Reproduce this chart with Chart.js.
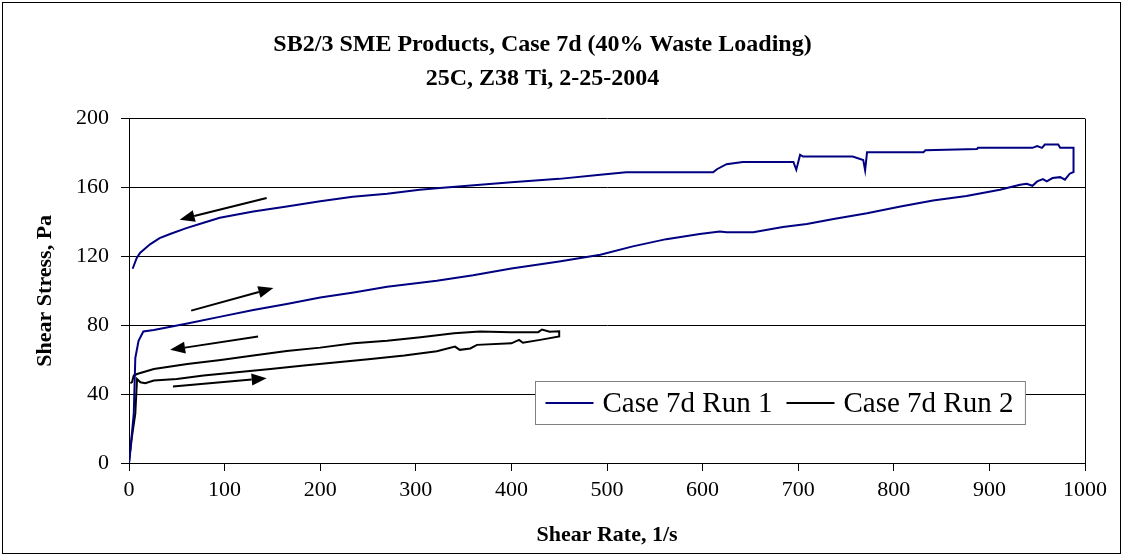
<!DOCTYPE html>
<html>
<head>
<meta charset="utf-8">
<script src="https://cdn.jsdelivr.net/npm/chart.js@4.4.1/dist/chart.umd.min.js"></script>
<style>
  html, body { margin: 0; padding: 0; background: #fff; }
  #wrap { width: 1123px; height: 556px; }
</style>
</head>
<body>
<div id="wrap"><canvas id="chart" width="1123" height="556"></canvas></div>
<script>
// --- datos ---
const titulo = ['SB2/3 SME Products, Case 7d (40% Waste Loading)', '25C, Z38 Ti, 2-25-2004'];
const xTicks = [0, 100, 200, 300, 400, 500, 600, 700, 800, 900, 1000];
const yTicks = [0, 40, 80, 120, 160, 200];

// Run 1: subida (0 -> 988) y bajada (988 -> 4)
const run1X = [0, 3, 5, 6.6, 10, 15, 26, 61, 96, 130, 165, 200, 235, 270, 322, 360, 400, 450, 493, 527, 562, 597, 618, 625, 653, 684, 709, 737, 772, 807, 841, 876, 911, 932, 939, 945, 950, 956, 960, 966, 974, 979, 984, 988,
               988, 974, 972, 958, 955, 950, 945, 888, 887, 833, 831, 772, 770, 768, 757, 705, 702, 698, 695, 642, 625, 615, 611, 520, 493, 450, 400, 325, 304, 270, 234, 200, 165, 130, 95, 78, 60, 43, 32, 22, 11.5, 8, 3.8];
const run1Y = [0, 17, 29, 61, 71, 76.4, 77.2, 81, 85, 88.8, 92.3, 96.1, 99, 102.3, 105.8, 109, 113, 117, 120.9, 125.8, 130, 133, 134.5, 134, 134, 137, 138.8, 141.7, 145, 149, 152.5, 155, 158.7, 161.6, 162.2, 161, 163.5, 164.9, 163.6, 165.5, 166, 164.5, 168, 169,
               183, 183, 184.9, 184.9, 183, 184, 183, 183, 182.3, 181.6, 180.4, 180.4, 170, 176, 178, 178, 179, 170.3, 174.8, 174.8, 173.5, 170.6, 168.8, 168.8, 167.4, 165, 163, 159.7, 158.7, 156.4, 154.6, 152, 149, 146, 142.4, 139.5, 136.4, 133, 130.6, 127, 122, 119, 112.8];

// Run 2: subida (0 -> 450) y bajada (450 -> 1.4)
const run2X = [0, 3, 6.6, 8.4, 11.9, 17, 26, 50, 78, 113, 148, 183, 218, 253, 288, 322, 341, 346, 357, 364, 400, 408, 412, 430, 450,
               450, 440, 432, 428, 400, 367, 340, 305, 270, 235, 200, 165, 130, 96, 61, 26, 8.4, 5, 3.1, 1.4];
const run2Y = [0, 15, 28.6, 48.8, 46.9, 46.3, 47.9, 48.8, 50.8, 52.7, 54.6, 56.6, 58.5, 60.4, 62.4, 64.9, 67.6, 65.7, 66.5, 68.6, 69.5, 71.5, 69.8, 71.5, 73.5,
               76.5, 76.2, 77.5, 76, 76, 76.3, 75.3, 73, 71, 69.5, 67, 65, 62.4, 59.8, 57.5, 54.6, 51.7, 50.8, 46.9, 46.3];

const series = [
  { label: 'Case 7d Run 1', xs: run1X, ys: run1Y, color: '#000080' },
  { label: 'Case 7d Run 2', xs: run2X, ys: run2Y, color: '#000000' }
];

// flechas: [x cola, y cola, x punta, y punta] en unidades de datos
const flechas = [
  [144, 153.9, 53, 141.3],
  [65, 88.5, 151, 101.6],
  [135, 73.4, 43, 65.7],
  [46, 44.4, 144, 49.2]
];

const FUENTE = "'Liberation Serif', 'Times New Roman', serif";

// --- plugin: marco, flechas y leyenda ---
const extras = {
  id: 'extras',
  afterDraw(chart) {
    const ctx = chart.ctx;
    const a = chart.chartArea;
    const sx = chart.scales.x, sy = chart.scales.y;
    ctx.save();

    // borde exterior
    ctx.strokeStyle = '#000';
    ctx.lineWidth = 1;
    ctx.strokeRect(2.5, 2.5, chart.width - 5, chart.height - 5);

    // borde derecho del area
    ctx.beginPath();
    ctx.moveTo(Math.round(a.right) + 0.5, a.top);
    ctx.lineTo(Math.round(a.right) + 0.5, a.bottom);
    ctx.stroke();

    // flechas
    ctx.fillStyle = '#000';
    ctx.lineWidth = 2;
    flechas.forEach(f => {
      const x1 = sx.getPixelForValue(f[0]), y1 = sy.getPixelForValue(f[1]);
      const x2 = sx.getPixelForValue(f[2]), y2 = sy.getPixelForValue(f[3]);
      const ang = Math.atan2(y2 - y1, x2 - x1);
      const len = 15, ancho = 6;
      const bx = x2 - len * Math.cos(ang), by = y2 - len * Math.sin(ang);
      ctx.beginPath();
      ctx.moveTo(x1, y1);
      ctx.lineTo(bx, by);
      ctx.stroke();
      ctx.beginPath();
      ctx.moveTo(x2, y2);
      ctx.lineTo(bx + ancho * Math.sin(ang), by - ancho * Math.cos(ang));
      ctx.lineTo(bx - ancho * Math.sin(ang), by + ancho * Math.cos(ang));
      ctx.closePath();
      ctx.fill();
    });

    // leyenda dentro del area (abajo a la derecha)
    ctx.font = '29px ' + FUENTE;
    ctx.textBaseline = 'middle';
    const muestra = 48, gap = 9, sep = 14, padL = 10, padR = 12;
    let ancho = padL + padR;
    chart.data.datasets.forEach((d, i) => {
      ancho += muestra + gap + ctx.measureText(d.label).width + (i > 0 ? sep : 0);
    });
    const alto = 43;
    const bx = Math.round(a.left + (a.right - a.left) * 0.425) + 0.5;
    const by = Math.round(a.top + (a.bottom - a.top) * 0.762) + 0.5;
    ctx.fillStyle = '#fff';
    ctx.fillRect(bx, by, ancho, alto);
    ctx.strokeStyle = '#808080';
    ctx.lineWidth = 1;
    ctx.strokeRect(bx, by, ancho, alto);
    let cx = bx + padL;
    const cy = by + alto / 2;
    chart.data.datasets.forEach((d, i) => {
      if (i > 0) cx += sep;
      ctx.strokeStyle = d.borderColor;
      ctx.lineWidth = 2;
      ctx.beginPath();
      ctx.moveTo(cx, cy);
      ctx.lineTo(cx + muestra, cy);
      ctx.stroke();
      cx += muestra + gap;
      ctx.fillStyle = '#000';
      ctx.fillText(d.label, cx, cy + 1);
      cx += ctx.measureText(d.label).width;
    });

    ctx.restore();
  }
};

new Chart(document.getElementById('chart'), {
  type: 'scatter',
  data: {
    datasets: series.map(s => ({
      label: s.label,
      data: s.xs.map((x, i) => ({ x: x, y: s.ys[i] })),
      showLine: true,
      borderColor: s.color,
      backgroundColor: s.color,
      borderWidth: 2,
      pointRadius: 0,
      tension: 0
    }))
  },
  options: {
    responsive: false,
    animation: false,
    devicePixelRatio: 1,
    layout: { padding: { left: 0, right: 38, top: 0, bottom: 0 } },
    plugins: {
      legend: { display: false },
      tooltip: { enabled: false },
      title: {
        display: true,
        text: titulo,
        color: '#000',
        font: { family: FUENTE, size: 24, weight: 'bold', lineHeight: 1.45 },
        padding: { top: 27, bottom: 22 }
      }
    },
    scales: {
      x: {
        type: 'linear',
        min: 0, max: 1000,
        afterBuildTicks: s => { s.ticks = xTicks.map(v => ({ value: v })); },
        afterFit: s => { s.height = 556 - 463; },
        border: { color: '#000', width: 1 },
        grid: { drawOnChartArea: false, drawTicks: true, tickLength: 8, color: '#000' },
        ticks: { color: '#000', padding: 6, maxRotation: 0, callback: v => String(v), font: { family: FUENTE, size: 22 } },
        title: { display: true, text: 'Shear Rate, 1/s', color: '#000', padding: { top: 0, bottom: 7 }, font: { family: FUENTE, size: 22, weight: 'bold' } }
      },
      y: {
        type: 'linear',
        min: 0, max: 200,
        afterBuildTicks: s => { s.ticks = yTicks.map(v => ({ value: v })); },
        afterFit: s => { s.width = 129; },
        border: { color: '#000', width: 1 },
        grid: { color: '#000', lineWidth: 1, drawTicks: true, tickLength: 8 },
        ticks: { color: '#000', padding: 12, callback: v => String(v), font: { family: FUENTE, size: 22 } },
        title: { display: true, text: 'Shear Stress, Pa', color: '#000', padding: { top: 32, bottom: 0 }, font: { family: FUENTE, size: 22, weight: 'bold' } }
      }
    }
  },
  plugins: [extras]
});
</script>
</body>
</html>
